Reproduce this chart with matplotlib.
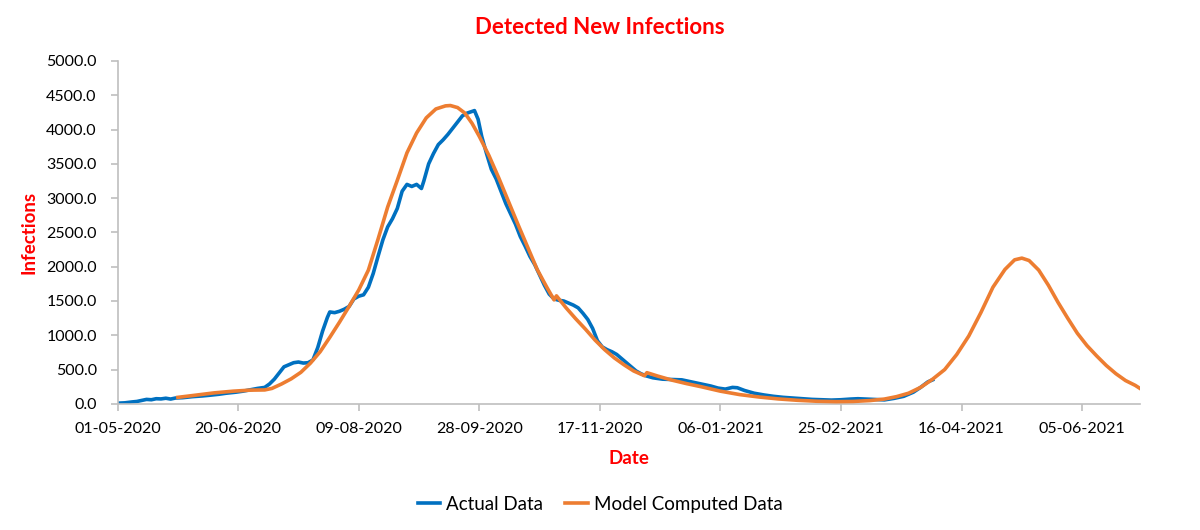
import matplotlib
matplotlib.use("Agg")
import matplotlib.pyplot as plt
import pandas as pd
from matplotlib.ticker import FormatStrFormatter, MultipleLocator

plt.rcParams['font.family'] = ['Lato', 'DejaVu Sans']

start_date = pd.Timestamp('2020-05-01')

# days since 01-05-2020
actual_days = [0, 3, 6, 8, 10, 12, 14, 16, 18, 20, 22, 24, 27, 31, 35, 38, 42, 45, 49, 52,
               55, 58, 61, 63, 65, 67, 69, 71, 73, 75, 77, 79, 81, 83, 85, 87, 88, 90, 92, 94,
               96, 98, 100, 102, 104, 106, 108, 110, 112, 114, 116, 118, 120, 122, 124, 126,
               127, 129, 131, 133, 135, 137, 139, 141, 143, 145, 148, 149.5, 151, 153, 155,
               157, 159, 161, 163, 165, 167, 169, 171, 173, 175, 177, 179, 181, 183, 185, 187,
               189, 191, 193, 195, 197, 199, 201, 203, 205, 207, 209, 211, 213, 215, 217, 219,
               222, 226, 230, 234, 238, 242, 246, 249, 252, 255, 257, 260, 264, 268, 272, 276,
               280, 284, 288, 292, 296, 300, 304, 307, 310, 314, 318, 322, 326, 330, 333, 336, 338]
actual_vals = [10, 15, 28, 35, 50, 65, 60, 75, 72, 82, 70, 85, 90, 105, 115, 125, 140, 155, 170, 185,
               205, 225, 240, 290, 360, 450, 540, 570, 600, 610, 595, 600, 640, 820, 1060, 1260, 1340, 1330, 1350, 1380,
               1420, 1530, 1570, 1590, 1700, 1900, 2150, 2390, 2580, 2700, 2850, 3100, 3200, 3170, 3200, 3140,
               3250, 3500, 3650, 3780, 3850, 3930, 4020, 4110, 4200, 4240, 4276, 4150, 3900, 3650, 3420,
               3280, 3100, 2920, 2770, 2620, 2440, 2300, 2150, 2030, 1880, 1730, 1600, 1530, 1510, 1500, 1470,
               1440, 1400, 1320, 1230, 1100, 920, 830, 790, 760, 720, 660, 600, 540, 480, 440, 410,
               380, 360, 355, 350, 320, 290, 260, 230, 215, 240, 235, 195, 155, 130, 110, 95,
               85, 75, 65, 60, 55, 60, 70, 75, 70, 62, 58, 80, 110, 170, 240, 320, 350]

model_days = [25, 32, 40, 48, 55, 61, 64, 68, 72, 76, 80, 84, 88, 92, 96, 100, 104, 108, 112, 116,
              120, 124, 128, 132, 136, 138, 141, 144, 147, 150, 154, 158, 162, 166, 170, 174, 178, 181,
              182, 186, 190, 194, 198, 202, 206, 210, 214, 218.5, 219.5, 224, 230, 236, 242, 250, 258,
              266, 274, 282, 290, 298, 305, 312, 318, 323, 328, 333, 338, 343, 348, 353, 358, 363, 368,
              372, 375, 378, 382, 386, 390, 394, 398, 402, 406, 410, 414, 418, 422, 424]
model_vals = [95, 125, 160, 185, 200, 203, 225, 290, 365, 460, 595, 760, 970, 1190, 1420, 1660, 1950, 2400, 2870, 3260,
              3660, 3950, 4170, 4300, 4345, 4350, 4320, 4240, 4090, 3900, 3620, 3300, 2960, 2620, 2290, 1960, 1700, 1516,
              1575, 1400, 1240, 1090, 930, 790, 670, 570, 480, 410, 455, 405, 345, 295, 250, 185, 135,
              100, 72, 52, 38, 32, 35, 48, 70, 105, 155, 240, 360, 500, 720, 990, 1330, 1700, 1960,
              2100, 2125, 2090, 1950, 1730, 1480, 1250, 1030, 850, 700, 560, 440, 340, 270, 225]

tick_days = list(range(0, 401, 50))
tick_labels = [(start_date + pd.Timedelta(days=d)).strftime('%d-%m-%Y') for d in tick_days]

fig = plt.figure(figsize=(12, 5.3), dpi=100)
ax = fig.add_axes([0.098, 0.238, 0.852, 0.647])

ax.plot(actual_days, actual_vals, color='#0070c0', lw=2.6, label='Actual Data', zorder=2)
ax.plot(model_days, model_vals, color='#ed7d31', lw=2.6, label='Model Computed Data', zorder=3)

ax.set_xlim(0, 424)
ax.set_ylim(0, 5000)
ax.set_xticks(tick_days)
ax.set_xticklabels(tick_labels)
ax.yaxis.set_major_locator(MultipleLocator(500))
ax.yaxis.set_major_formatter(FormatStrFormatter('%.1f'))

for side in ['top', 'right']:
    ax.spines[side].set_visible(False)
for side in ['left', 'bottom']:
    ax.spines[side].set_color('#bfbfbf')
    ax.spines[side].set_linewidth(1.2)
ax.tick_params(axis='both', colors='#bfbfbf', labelcolor='black', labelsize=11.5, length=5, width=1.2)
ax.tick_params(axis='x', pad=8)
ax.tick_params(axis='y', pad=10)

# title sits over the figure centre, not the axes centre
fig.text(0.5, 0.948, 'Detected New Infections', color='#ff0000', fontsize=16,
         fontweight='bold', ha='center', va='center')
ax.set_xlabel('Date', color='#ff0000', fontsize=13.5, fontweight='bold', labelpad=10)
ax.set_ylabel('Infections', color='#ff0000', fontsize=13.5, fontweight='bold', labelpad=6)

fig.legend(loc='center', bbox_to_anchor=(0.5, 0.049), ncol=2, frameon=False,
           fontsize=13.5, handlelength=1.2, handletextpad=0.3, columnspacing=1.2)

fig.savefig('out.png', dpi=100)
